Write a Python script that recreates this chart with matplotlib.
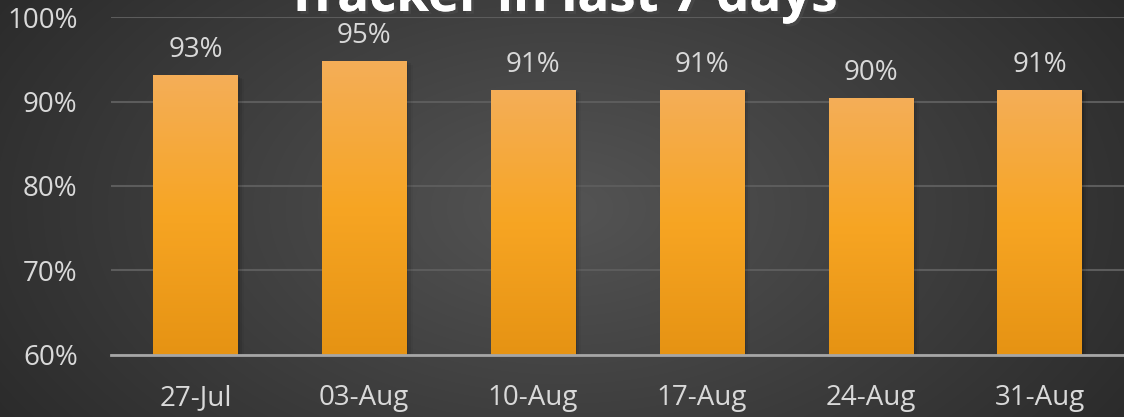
import numpy as np
import matplotlib
matplotlib.use("Agg")
import matplotlib.pyplot as plt
import matplotlib.patheffects as pe
from matplotlib.colors import LinearSegmentedColormap

weeks = ['27-Jul', '03-Aug', '10-Aug', '17-Aug', '24-Aug', '31-Aug']
values = [93.1, 94.8, 91.4, 91.4, 90.4, 91.4]
labels = ['93%', '95%', '91%', '91%', '90%', '91%']
yticks = [60, 70, 80, 90, 100]

plt.rcParams['font.family'] = ['Open Sans', 'DejaVu Sans']
txt = '#d9d9d9'

fig = plt.figure(figsize=(11.24, 4.17), dpi=100)

# radial background
bg = fig.add_axes([0, 0, 1, 1], zorder=0)
yy, xx = np.mgrid[0:417, 0:1124]
r = np.sqrt(((xx - 562) / 700.0) ** 2 + ((yy - 208) / 420.0) ** 2)
shade = np.clip(0.33 - 0.17 * r, 0.15, 0.33)
bg.imshow(np.dstack([shade] * 3), aspect='auto', extent=[0, 1, 0, 1])
bg.axis('off')

ax = fig.add_axes([111 / 1124, 62 / 417, 1013 / 1124, 338 / 417], zorder=1)
ax.patch.set_alpha(0)

x = np.arange(len(weeks))
cmap = LinearSegmentedColormap.from_list('bar', ['#e69313', '#f7a523', '#f4ae58'])
grad = np.linspace(0, 1, 256).reshape(-1, 1)

bars = ax.bar(x, [v - 60 for v in values], bottom=60, width=0.5, color='none', zorder=3)
for b in bars:
    bx, by, bw, bh = b.get_x(), b.get_y(), b.get_width(), b.get_height()
    # soft shadow
    for k, a in enumerate([0.10, 0.07, 0.04]):
        ax.add_patch(plt.Rectangle((bx + 0.012 * (k + 1), by - 0.15 * (k + 1)), bw, bh,
                                   color='black', alpha=a, zorder=2, lw=0))
    im = ax.imshow(grad, cmap=cmap, origin='lower', aspect='auto',
                   extent=[bx, bx + bw, by, by + bh], zorder=3)
    im.set_clip_path(b)

for xi, v, lab in zip(x, values, labels):
    ax.text(xi, v + 1.3, lab, ha='center', va='bottom', color=txt, fontsize=20)

ax.set_xlim(-0.5, len(weeks) - 0.5)
ax.set_ylim(60, 100)
ax.set_yticks(yticks)
ax.set_yticklabels([f'{t}%' for t in yticks])
ax.set_xticks(x)
ax.set_xticklabels(weeks)
ax.tick_params(length=0, colors=txt, labelsize=20)
ax.tick_params(axis='x', pad=21)
ax.tick_params(axis='y', pad=24)
for lab in ax.get_yticklabels():
    lab.set_horizontalalignment('right')
ax.grid(axis='y', color='#5c5c5c', lw=1.5, zorder=1)
ax.set_axisbelow(True)
for s in ['top', 'right', 'left']:
    ax.spines[s].set_visible(False)
ax.spines['bottom'].set_color('#a6a6a6')
ax.spines['bottom'].set_linewidth(2)
ax.spines['bottom'].set_zorder(4)

fig.text(562 / 1124, 1 - 11 / 417, 'Tracker in last 7 days', ha='center', va='baseline',
         color='white', fontsize=38, fontweight='bold',
         path_effects=[pe.withSimplePatchShadow(offset=(2, -2), alpha=0.6), pe.Normal()])

fig.savefig('out.png', dpi=100)
